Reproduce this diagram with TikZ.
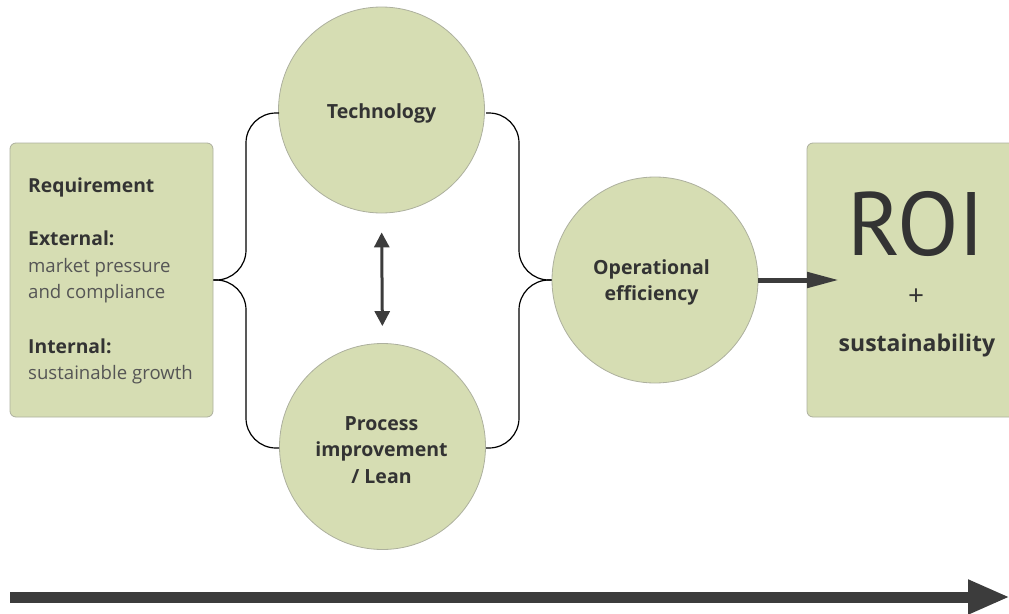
\documentclass[tikz,border=0pt]{standalone}
\usepackage{fontspec}
\setmainfont{Open Sans}
\newfontfamily\bigfont{PT Sans}
\usetikzlibrary{arrows.meta,calc}
\definecolor{sage}{HTML}{D6DDB3}
\definecolor{edge}{HTML}{ADB09E}
\definecolor{ink}{HTML}{333333}
\definecolor{soft}{HTML}{555555}
\definecolor{arrowgray}{HTML}{3C3C3C}

\begin{document}
\begin{tikzpicture}[x=1pt,y=-1pt,
  panel/.style={draw=edge, line width=0.8pt, fill=sage, rounded corners=6pt, inner sep=0pt},
  disc/.style={circle, draw=edge, line width=0.8pt, fill=sage, minimum size=206pt, inner sep=0pt},
  disclabel/.style={inner sep=0pt, align=center, text=ink, font=\bfseries\fontsize{19.5}{26.5}\selectfont},
  brace/.style={draw=black, line width=1.2pt, rounded corners=30pt},
  boldtxt/.style={anchor=base west, inner sep=0pt, text=ink, font=\bfseries\fontsize{19.3}{24}\selectfont},
  plaintxt/.style={anchor=base west, inner sep=0pt, text=soft, font=\fontsize{18.6}{24}\selectfont},
  heavy/.style={draw=arrowgray, line width=5pt},
]
\useasboundingbox (0,0) rectangle (1009,613);
\clip (0,0) rectangle (1009,613);

% requirement panel and its text
\node[panel, minimum width=203pt, minimum height=274pt] (req) at (111.5,280) {};
\node[boldtxt]  (reqhead) at (28,192) {Requirement};
\node[boldtxt]  (exthead) at (28,245) {External:};
\node[plaintxt] (ext1)    at (28,272) {market pressure};
\node[plaintxt] (ext2)    at (28,298) {and compliance};
\node[boldtxt]  (inthead) at (28,353) {Internal:};
\node[plaintxt] (int1)    at (28,379) {sustainable growth};

% the three drivers
\node[disc] (tech) at (381.5,110) {};
\node[disc] (proc) at (382.5,446.5) {};
\node[disc] (ops)  at (655,280) {};
\node[disclabel, anchor=base] (techlbl) at (381.5,118) {Technology};
\node[disclabel] (proclbl) at (381.5,450) {Process\\improvement\\/ Lean};
\node[disclabel] (opslbl)  at (651.5,282.5) {Operational\\efficiency};

% result panel
\node[panel, minimum width=223pt, minimum height=274pt] (roi) at (918.5,280) {};
\node[anchor=base, inner sep=0pt, text=ink, font=\bigfont\fontsize{90}{90}\selectfont] (roiword) at (916,255) {ROI};
\node[anchor=center, inner sep=0pt, text=ink, font=\fontsize{28}{28}\selectfont] (plus) at (916,297) {+};
\node[anchor=base, inner sep=0pt, text=ink, font=\bfseries\fontsize{23}{24}\selectfont] (sust) at (917,351) {sustainability};

% braces
\coordinate (lspine) at (246,0);
\coordinate (rspine) at (519,0);
\coordinate (tl) at (279,113);
\coordinate (bl) at (279,448);
\coordinate (tr) at (486,113);
\coordinate (br) at (486,448);
\draw[brace] (req.east) -| (lspine |- tl) -- (tl);
\draw[brace] (req.east) -| (lspine |- bl) -- (bl);
\draw[brace] (ops.west) -| (rspine |- tr) -- (tr);
\draw[brace] (ops.west) -| (rspine |- br) -- (br);

% interplay between technology and process
\draw[draw=arrowgray, line width=3pt,
  {Triangle[length=15pt,width=15pt]}-{Triangle[length=15pt,width=15pt]},
  shorten <=19pt, shorten >=17pt] (tech.south) -- (proc.north);

% efficiency leads to the result
\coordinate (roitip) at (839,280);
\draw[heavy, -{Triangle[length=32pt,width=15pt]}] (ops.east) -- (roitip);

% time line
\coordinate (t0) at (10,597);
\coordinate (t1) at (1010,597);
\draw[draw=arrowgray, line width=11pt, -{Triangle[length=42pt,width=32pt]}] (t0) -- (t1);
\end{tikzpicture}
\end{document}
